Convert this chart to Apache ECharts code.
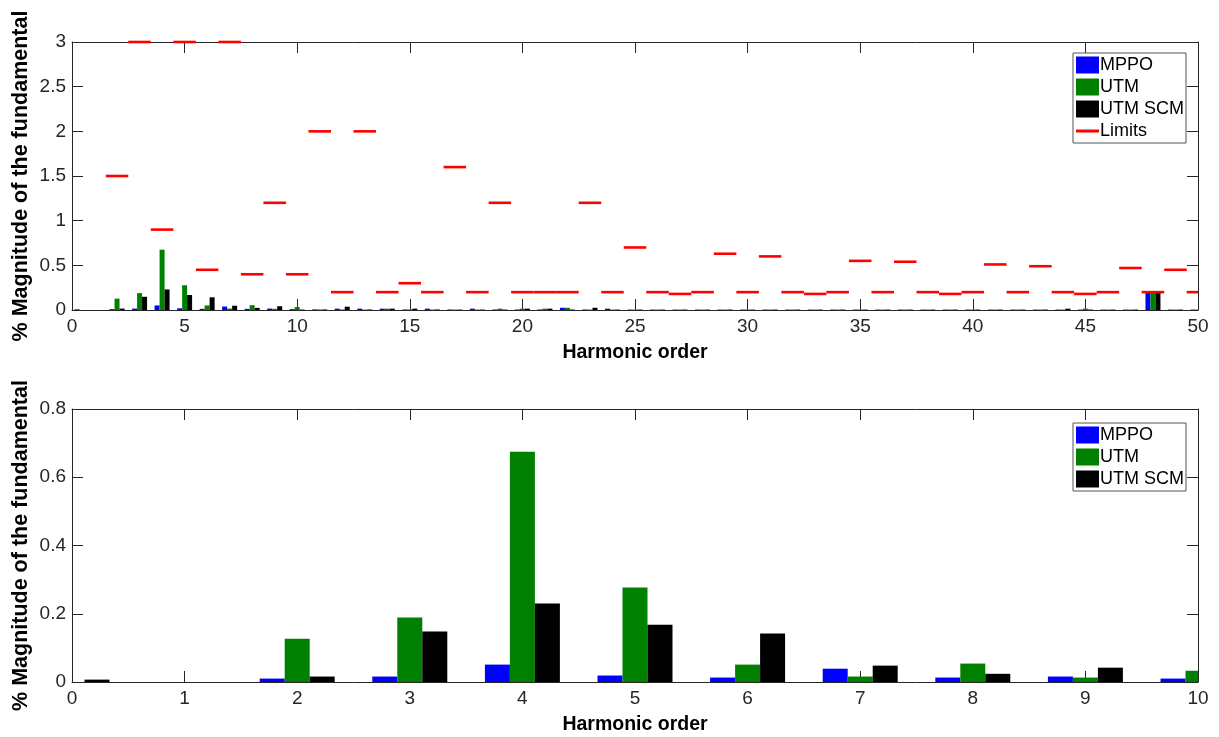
<!DOCTYPE html>
<html>
<head>
<meta charset="utf-8">
<script src="https://cdn.jsdelivr.net/npm/echarts@6/dist/echarts.min.js"></script>
<style>
  html, body { margin: 0; padding: 0; background: #fff; }
  #myChart { width: 1219px; height: 737px; }
</style>
</head>
<body>
<div id="myChart"></div>
<script>
// harmonic orders 0..50
let harmonics = [0, 1, 2, 3, 4, 5, 6, 7, 8, 9, 10, 11, 12, 13, 14, 15, 16, 17, 18, 19, 20,
  21, 22, 23, 24, 25, 26, 27, 28, 29, 30, 31, 32, 33, 34, 35, 36, 37, 38, 39, 40,
  41, 42, 43, 44, 45, 46, 47, 48, 49, 50];

// % magnitude of the fundamental
let mppo = [0, 0, 0.010, 0.016, 0.051, 0.019, 0.013, 0.039, 0.013, 0.016, 0.010,
  0.007, 0.015, 0.015, 0.015, 0.006, 0.015, 0.006, 0.015, 0.006, 0.006,
  0.006, 0.025, 0.006, 0.015, 0.005, 0.005, 0.005, 0.005, 0.005, 0.005,
  0.005, 0.005, 0.005, 0.005, 0.005, 0.005, 0.005, 0.005, 0.005, 0.005,
  0.005, 0.005, 0.005, 0.005, 0.005, 0.005, 0.005, 0.19, 0.005, 0.005];
let utm = [0, 0, 0.127, 0.189, 0.675, 0.277, 0.051, 0.016, 0.054, 0.013, 0.033,
  0.006, 0.006, 0.005, 0.015, 0.006, 0.005, 0.005, 0.005, 0.015, 0.015,
  0.015, 0.025, 0.005, 0.005, 0.005, 0.005, 0.005, 0.005, 0.005, 0.005,
  0.005, 0.005, 0.005, 0.005, 0.005, 0.005, 0.005, 0.005, 0.005, 0.005,
  0.005, 0.005, 0.005, 0.005, 0.015, 0.005, 0.005, 0.19, 0.005, 0.005];
let utmScm = [0.007, 0, 0.016, 0.148, 0.23, 0.168, 0.142, 0.048, 0.024, 0.042, 0.005,
  0.006, 0.037, 0.006, 0.015, 0.015, 0.006, 0.005, 0.005, 0.005, 0.015,
  0.015, 0.005, 0.025, 0.005, 0.005, 0.005, 0.005, 0.005, 0.005, 0.005,
  0.005, 0.005, 0.005, 0.005, 0.005, 0.005, 0.005, 0.005, 0.005, 0.005,
  0.005, 0.005, 0.005, 0.015, 0.005, 0.005, 0.005, 0.19, 0.005, 0.005];

// limits per harmonic order
let limitOrders = [2, 3, 4, 5, 6, 7, 8, 9, 10, 11, 12, 13, 14, 15, 16, 17, 18, 19, 20,
  21, 22, 23, 24, 25, 26, 27, 28, 29, 30, 31, 32, 33, 34, 35, 36, 37, 38, 39, 40,
  41, 42, 43, 44, 45, 46, 47, 48, 49, 50];
let limitValues = [1.5, 3, 0.9, 3, 0.45, 3, 0.4, 1.2, 0.4, 2, 0.2, 2, 0.2, 0.3, 0.2, 1.6, 0.2, 1.2, 0.2,
  0.2, 0.2, 1.2, 0.2, 0.7, 0.2, 0.18, 0.2, 0.63, 0.2, 0.6, 0.2, 0.18, 0.2, 0.55, 0.2, 0.54, 0.2, 0.18, 0.2,
  0.51, 0.2, 0.49, 0.2, 0.18, 0.2, 0.47, 0.2, 0.45, 0.2];

let barW = 0.222;
let font = "'Liberation Sans', Arial, Helvetica, sans-serif";
let axisColor = '#262626';

function pairs(xs, ys) {
  return xs.map((x, i) => [x, ys[i]]);
}

// grouped bar drawn on a value axis, clipped to the grid
function barRender(offset) {
  return function (params, api) {
    let h = api.value(0), v = api.value(1);
    let p1 = api.coord([h + offset - barW / 2, v]);
    let p2 = api.coord([h + offset + barW / 2, 0]);
    let cs = params.coordSys;
    let shape = echarts.graphic.clipRectByRect(
      { x: p1[0], y: p1[1], width: p2[0] - p1[0], height: p2[1] - p1[1] },
      { x: cs.x, y: cs.y, width: cs.width, height: cs.height }
    );
    return shape && { type: 'rect', shape: shape, style: { fill: api.visual('color') } };
  };
}

function limitRender(params, api) {
  let h = api.value(0), v = api.value(1);
  let x1 = Math.max(h - 0.5, 0), x2 = Math.min(h + 0.5, 50);
  let a = api.coord([x1, v]);
  let b = api.coord([x2, v]);
  return {
    type: 'line',
    shape: { x1: a[0], y1: a[1], x2: b[0], y2: b[1] },
    style: { stroke: '#ff0000', lineWidth: 2.6 }
  };
}

function xAxisMain(grid, max, interval) {
  return {
    type: 'value', gridIndex: grid, min: 0, max: max, interval: interval,
    name: 'Harmonic order', nameLocation: 'middle', nameGap: 33,
    nameTextStyle: { color: '#000', fontWeight: 'bold', fontSize: 19.5, fontFamily: font },
    axisLine: { show: true, onZero: false, lineStyle: { color: axisColor } },
    axisTick: { inside: true, length: 11, lineStyle: { color: axisColor } },
    axisLabel: { color: axisColor, fontSize: 19, fontFamily: font, margin: 7 },
    splitLine: { show: false }
  };
}
function xAxisTop(grid, max, interval) {
  return {
    type: 'value', gridIndex: grid, position: 'top', min: 0, max: max, interval: interval,
    axisLine: { show: true, onZero: false, lineStyle: { color: axisColor } },
    axisTick: { inside: true, length: 11, lineStyle: { color: axisColor } },
    axisLabel: { show: false },
    splitLine: { show: false }
  };
}
function yAxisMain(grid, max, interval) {
  return {
    type: 'value', gridIndex: grid, min: 0, max: max, interval: interval,
    name: '% Magnitude of the fundamental', nameLocation: 'middle', nameGap: 40,
    nameMoveOverlap: false,
    nameTextStyle: { color: '#000', fontWeight: 'bold', fontSize: 21.5, fontFamily: font },
    axisLine: { show: true, onZero: false, lineStyle: { color: axisColor } },
    axisTick: { inside: true, length: 11, lineStyle: { color: axisColor } },
    axisLabel: { color: axisColor, fontSize: 19, fontFamily: font, margin: 6 },
    splitLine: { show: false }
  };
}
function yAxisRight(grid, max, interval) {
  return {
    type: 'value', gridIndex: grid, position: 'right', min: 0, max: max, interval: interval,
    axisLine: { show: true, onZero: false, lineStyle: { color: axisColor } },
    axisTick: { inside: true, length: 11, lineStyle: { color: axisColor } },
    axisLabel: { show: false },
    splitLine: { show: false }
  };
}

function legendBox(top, names) {
  return {
    show: true, orient: 'vertical', left: 1073, top: top,
    data: names,
    itemWidth: 23, itemHeight: 17, itemGap: 4,
    padding: [3, 2, 3, 3],
    borderColor: '#555', borderWidth: 1, backgroundColor: '#fff',
    textStyle: { color: '#000', fontSize: 18, lineHeight: 18, fontFamily: font, padding: [0, 0, 0, -4] },
    selectedMode: false
  };
}

let myChart = echarts.init(document.getElementById('myChart'));
let option = {
  animation: false,
  backgroundColor: '#fff',
  grid: [
    { left: 72, top: 42, width: 1126, height: 268 },
    { left: 72, top: 409, width: 1126, height: 273 }
  ],
  legend: [
    legendBox(53, [
      { name: 'MPPO', icon: 'rect' },
      { name: 'UTM', icon: 'rect' },
      { name: 'UTM SCM', icon: 'rect' },
      { name: 'Limits', icon: 'path://M0,0 L20,0 L20,2.6 L0,2.6 Z' }
    ]),
    legendBox(423, [
      { name: 'MPPO', icon: 'rect' },
      { name: 'UTM', icon: 'rect' },
      { name: 'UTM SCM', icon: 'rect' }
    ])
  ],
  xAxis: [
    xAxisMain(0, 50, 5), xAxisTop(0, 50, 5),
    xAxisMain(1, 10, 1), xAxisTop(1, 10, 1)
  ],
  yAxis: [
    yAxisMain(0, 3, 0.5), yAxisRight(0, 3, 0.5),
    yAxisMain(1, 0.8, 0.2), yAxisRight(1, 0.8, 0.2)
  ],
  series: [
    // top: all harmonics with limits
    { name: 'MPPO', type: 'custom', xAxisIndex: 0, yAxisIndex: 0, itemStyle: { color: '#0000ff' },
      renderItem: barRender(-barW), data: pairs(harmonics, mppo) },
    { name: 'UTM', type: 'custom', xAxisIndex: 0, yAxisIndex: 0, itemStyle: { color: '#008000' },
      renderItem: barRender(0), data: pairs(harmonics, utm) },
    { name: 'UTM SCM', type: 'custom', xAxisIndex: 0, yAxisIndex: 0, itemStyle: { color: '#000000' },
      renderItem: barRender(barW), data: pairs(harmonics, utmScm) },
    { name: 'Limits', type: 'custom', xAxisIndex: 0, yAxisIndex: 0, itemStyle: { color: '#ff0000' },
      renderItem: limitRender, data: pairs(limitOrders, limitValues), z: 5 },
    // bottom: zoom on orders 0..10
    { name: 'MPPO', type: 'custom', xAxisIndex: 2, yAxisIndex: 2, itemStyle: { color: '#0000ff' },
      renderItem: barRender(-barW), data: pairs(harmonics, mppo) },
    { name: 'UTM', type: 'custom', xAxisIndex: 2, yAxisIndex: 2, itemStyle: { color: '#008000' },
      renderItem: barRender(0), data: pairs(harmonics, utm) },
    { name: 'UTM SCM', type: 'custom', xAxisIndex: 2, yAxisIndex: 2, itemStyle: { color: '#000000' },
      renderItem: barRender(barW), data: pairs(harmonics, utmScm) }
  ]
};

myChart.setOption(option);
</script>
</body>
</html>
